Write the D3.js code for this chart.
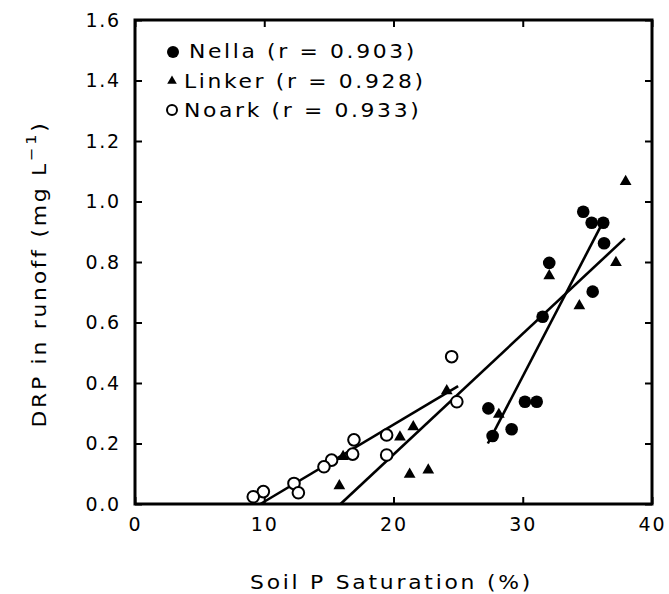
<!DOCTYPE html>
<html>
<head>
<meta charset="utf-8">
<script src="https://cdn.jsdelivr.net/npm/d3@7"></script>
<style>
  body { margin: 0; background: #fff; }
  text { font-family: "DejaVu Sans", sans-serif; fill: #000; }
</style>
</head>
<body>
<svg id="chart" width="669" height="594"></svg>
<script>
// ---- data ----
const nellaX = [34.68, 35.33, 36.23, 36.29, 32.05, 35.41, 31.54, 27.34, 30.17, 31.08, 29.14, 27.67];
const nellaY = [0.966, 0.930, 0.930, 0.862, 0.797, 0.702, 0.619, 0.316, 0.338, 0.338, 0.247, 0.225];

const linkerX = [37.96, 32.05, 37.21, 34.38, 28.15, 24.12, 21.53, 20.50, 21.25, 22.69, 15.81, 16.10];
const linkerY = [1.066, 0.754, 0.798, 0.655, 0.296, 0.374, 0.255, 0.221, 0.098, 0.112, 0.060, 0.157];

const noarkX = [24.50, 24.90, 19.47, 19.47, 16.94, 16.84, 15.21, 14.62, 12.30, 12.64, 9.93, 9.15];
const noarkY = [0.487, 0.338, 0.228, 0.162, 0.212, 0.165, 0.145, 0.123, 0.068, 0.037, 0.041, 0.024];

// regression line end points
const nellaLine = [[27.3, 0.20], [36.0, 0.915]];
const linkerLine = [[15.9, 0.0], [37.9, 0.878]];
const noarkLine = [[9.7, 0.0], [25.0, 0.39]];

const xTicks = [0, 10, 20, 30, 40];
const yTicks = [0.0, 0.2, 0.4, 0.6, 0.8, 1.0, 1.2, 1.4, 1.6];
const legendLabels = ["Nella (r = 0.903)", "Linker (r = 0.928)", "Noark (r = 0.933)"];

// ---- layout ----
const svg = d3.select("#chart");
const L = 135, R = 652, T = 20, B = 504;
const x = d3.scaleLinear().domain([0, 40]).range([L, R]);
const y = d3.scaleLinear().domain([0, 1.6]).range([B, T]);
const SX = 1.15;   // horizontal glyph stretch to mimic the wide original typeface

// ticks (inward, all sides)
const tickLen = 7;
const gx = svg.append("g").attr("transform", `translate(0,${B})`)
  .call(d3.axisBottom(x).tickValues(xTicks).tickSize(-tickLen).tickPadding(14).tickFormat(d3.format("d")));
const gxt = svg.append("g").attr("transform", `translate(0,${T})`)
  .call(d3.axisTop(x).tickValues(xTicks).tickSize(-tickLen).tickFormat(""));
const gy = svg.append("g").attr("transform", `translate(${L},0)`)
  .call(d3.axisLeft(y).tickValues(yTicks).tickSize(-tickLen).tickPadding(14).tickFormat(d3.format(".1f")));
const gyr = svg.append("g").attr("transform", `translate(${R},0)`)
  .call(d3.axisRight(y).tickValues(yTicks).tickSize(-tickLen).tickFormat(""));

[gx, gxt, gy, gyr].forEach(g => {
  g.select(".domain").remove();
  g.selectAll(".tick line").attr("stroke", "#000").attr("stroke-width", 2);
  g.selectAll("text").attr("font-size", 19).attr("letter-spacing", "1.8px")
    .attr("font-family", "DejaVu Sans, sans-serif").attr("fill", "#000");
});
gx.selectAll("text").attr("dy", "0.71em");

// frame
svg.append("rect").attr("x", L).attr("y", T).attr("width", R - L).attr("height", B - T)
  .attr("fill", "none").attr("stroke", "#000").attr("stroke-width", 3);

// regression lines
const line = d3.line().x(d => x(d[0])).y(d => y(d[1]));
[nellaLine, linkerLine, noarkLine].forEach(l => {
  svg.append("path").attr("d", line(l)).attr("fill", "none")
    .attr("stroke", "#000").attr("stroke-width", 2.6);
});

// points
const tri = d3.symbol().type(d3.symbolTriangle).size(60);
svg.append("g").selectAll("path").data(linkerX.map((v, i) => [v, linkerY[i]])).join("path")
  .attr("d", tri).attr("transform", d => `translate(${x(d[0])},${y(d[1])})`).attr("fill", "#000");
svg.append("g").selectAll("circle").data(noarkX.map((v, i) => [v, noarkY[i]])).join("circle")
  .attr("cx", d => x(d[0])).attr("cy", d => y(d[1])).attr("r", 5.8)
  .attr("fill", "#fff").attr("stroke", "#000").attr("stroke-width", 2);
svg.append("g").selectAll("circle").data(nellaX.map((v, i) => [v, nellaY[i]])).join("circle")
  .attr("cx", d => x(d[0])).attr("cy", d => y(d[1])).attr("r", 6.3).attr("fill", "#000");

// legend
const lg = svg.append("g");
lg.append("circle").attr("cx", 173).attr("cy", 52).attr("r", 6).attr("fill", "#000");
lg.append("path").attr("d", d3.symbol().type(d3.symbolTriangle).size(40)())
  .attr("transform", "translate(172,81)").attr("fill", "#000");
lg.append("circle").attr("cx", 172).attr("cy", 110).attr("r", 5).attr("fill", "#fff")
  .attr("stroke", "#000").attr("stroke-width", 2);
const lx = [189, 184, 184], ly = [58, 88, 117];
legendLabels.forEach((t, i) => {
  lg.append("g").attr("transform", `translate(${lx[i]},${ly[i]}) scale(${SX},1)`)
    .append("text").attr("font-size", 19).attr("letter-spacing", "2.3px").text(t);
});

// axis titles
svg.append("g").attr("transform", `translate(${(L + R) / 2 - 2},589) scale(${SX},1)`)
  .append("text").attr("text-anchor", "middle")
  .attr("font-size", 19).attr("letter-spacing", "2.4px").text("Soil P Saturation (%)");

const yt = svg.append("g").attr("transform", `translate(46,274) rotate(-90) scale(${SX},1)`)
  .append("text").attr("text-anchor", "middle").attr("font-size", 19).attr("letter-spacing", "2.4px");
yt.append("tspan").text("DRP in runoff (mg L");
yt.append("tspan").attr("font-size", 14).attr("dy", -10).text("−1");
yt.append("tspan").attr("dy", 10).text(")");
</script>
</body>
</html>
